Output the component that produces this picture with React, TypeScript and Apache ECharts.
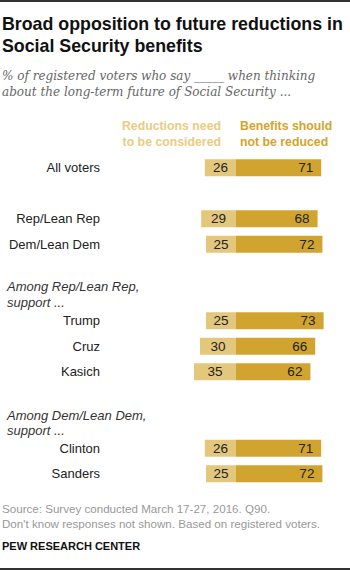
import React, { useEffect, useRef } from "react";
import * as echarts from "echarts";

const categories = [
  "All voters",
  " ",
  "Rep/Lean Rep",
  "Dem/Lean Dem",
  "  ",
  "   ",
  "Trump",
  "Cruz",
  "Kasich",
  "    ",
  "     ",
  "Clinton",
  "Sanders",
];
const reductionsNeed = [26, null, 29, 25, null, null, 25, 30, 35, null, null, 26, 25];
const notReduced = [71, null, 68, 72, null, null, 73, 66, 62, null, null, 71, 72];

const titleLines = ["Broad opposition to future reductions in", "Social Security benefits"];
const subtitleLines = [
  "% of registered voters who say _____ when thinking",
  "about the long-term future of Social Security ...",
];
const headerLeft = ["Reductions need", "to be considered"];
const headerRight = ["Benefits should", "not be reduced"];
const groupHeadings = [
  ["Among Rep/Lean Rep,", "support ..."],
  ["Among Dem/Lean Dem,", "support ..."],
];
const footerLines = [
  "Source: Survey conducted March 17-27, 2016. Q90.",
  "Don't know responses not shown. Based on registered voters.",
];
const sourceLabel = "PEW RESEARCH CENTER";

const LIGHT = "#e3c77c";
const DARK = "#d1a42f";
const SANS = "'Liberation Sans', Arial, sans-serif";

export default function App() {
  const ref = useRef<HTMLDivElement>(null);
  useEffect(() => {
    if (!ref.current) return;
    const chart = echarts.init(ref.current, null, { renderer: "svg" });
    const txt = (text: string, x: number, y: number, o: any = {}) => ({
      type: "text",
      x,
      y,
      style: {
        text,
        fontFamily: SANS,
        fontSize: 13,
        fill: "#333",
        textVerticalAlign: "middle",
        ...o,
      },
    });
    const graphics: any[] = [
      { type: "rect", shape: { x: 0, y: 0, width: 350, height: 2 }, style: { fill: "#333" } },
      { type: "rect", shape: { x: 0, y: 568, width: 350, height: 2 }, style: { fill: "#333" } },
      ...titleLines.map((t, i) =>
        txt(t, 2, 24 + i * 21.5, { fontSize: 17.8, fontWeight: "bold", fill: "#111" })
      ),
      ...subtitleLines.map((t, i) =>
        txt(t, 2, 76 + i * 15.5, {
          fontFamily: "'DejaVu Serif', serif",
          fontStyle: "italic",
          fontSize: 12,
          fill: "#666",
        })
      ),
      ...headerLeft.map((t, i) =>
        txt(t, 221, 126 + i * 15.5, { fontWeight: "bold", fontSize: 12.3, fill: "#e8cc82", textAlign: "right" })
      ),
      ...headerRight.map((t, i) =>
        txt(t, 240, 126 + i * 15.5, { fontWeight: "bold", fontSize: 12.3, fill: "#d3a42c", textAlign: "left" })
      ),
      ...groupHeadings[0].map((t, i) => txt(t, 7, 286.7 + i * 15.5, { fontStyle: "italic" })),
      ...groupHeadings[1].map((t, i) => txt(t, 7, 415 + i * 15.5, { fontStyle: "italic" })),
      ...footerLines.map((t, i) => txt(t, 2, 508.5 + i * 14.5, { fontSize: 11.6, fill: "#999" })),
      txt(sourceLabel, 2, 545.5, { fontSize: 11, fontWeight: "bold", fill: "#111" }),
    ];
    chart.setOption({
      animation: false,
      grid: { left: 176, right: 0, top: 155, height: 331.5, containLabel: false },
      xAxis: {
        type: "value",
        min: -50,
        max: 95,
        show: false,
      },
      yAxis: {
        type: "category",
        inverse: true,
        data: categories,
        axisLine: { show: false },
        axisTick: { show: false },
        splitLine: { show: false },
        axisLabel: {
          margin: 76,
          fontFamily: SANS,
          fontSize: 13,
          color: "#222",
        },
      },
      series: [
        {
          name: "Reductions need to be considered",
          type: "bar",
          stack: "total",
          barWidth: 17,
          data: reductionsNeed.map((v) => (v == null ? null : -v)),
          itemStyle: { color: LIGHT },
          label: {
            show: true,
            position: "inside",
            formatter: (p: any) => String(Math.abs(p.value)),
            fontFamily: SANS,
            fontSize: 13.5,
            color: "#222",
          },
        },
        {
          name: "Benefits should not be reduced",
          type: "bar",
          stack: "total",
          barWidth: 17,
          data: notReduced,
          itemStyle: { color: DARK },
          label: {
            show: true,
            position: "insideRight",
            distance: 8,
            fontFamily: SANS,
            fontSize: 13.5,
            color: "#222",
          },
        },
      ],
      graphic: graphics,
    });
    return () => chart.dispose();
  }, []);
  return (
    <div
      ref={ref}
      style={{ position: "absolute", left: 0, top: 0, width: 350, height: 570, background: "#fff" }}
    />
  );
}
